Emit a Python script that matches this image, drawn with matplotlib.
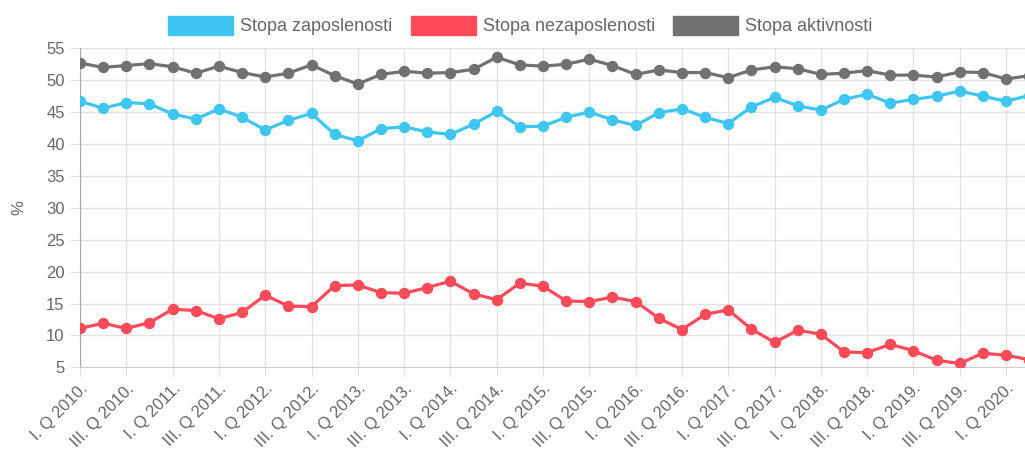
import numpy as np
import matplotlib
matplotlib.use("Agg")
import matplotlib.pyplot as plt
from matplotlib.patches import Patch

plt.rcParams['font.family'] = ['Liberation Sans', 'DejaVu Sans']

# quarters I.Q 2010 .. II.Q 2020
roman = ["I", "II", "III", "IV"]
quarters = [f"{roman[q]}. Q {y}." for y in range(2010, 2021) for q in range(4)][:42]

zaposlenost = [46.7, 45.6, 46.5, 46.3, 44.7, 43.9, 45.5, 44.2, 42.2, 43.7,
               44.8, 41.5, 40.5, 42.4, 42.7, 41.9, 41.5, 43.1, 45.1, 42.7,
               42.8, 44.2, 45.0, 43.8, 42.9, 44.9, 45.5, 44.2, 43.2, 45.8,
               47.3, 46.0, 45.3, 47.0, 47.8, 46.4, 47.0, 47.5, 48.3, 47.5,
               46.7, 47.6]
nezaposlenost = [11.1, 11.9, 11.1, 12.0, 14.1, 13.9, 12.6, 13.6, 16.3, 14.6,
                 14.5, 17.8, 17.9, 16.7, 16.6, 17.5, 18.5, 16.5, 15.6, 18.2,
                 17.7, 15.4, 15.3, 16.0, 15.3, 12.7, 10.9, 13.3, 14.0, 11.0,
                 8.9, 10.8, 10.2, 7.4, 7.3, 8.6, 7.6, 6.1, 5.6, 7.2,
                 6.9, 6.2]
aktivnost = [52.7, 52.0, 52.3, 52.6, 52.1, 51.1, 52.2, 51.2, 50.5, 51.1,
             52.4, 50.7, 49.4, 50.9, 51.4, 51.1, 51.2, 51.7, 53.6, 52.4,
             52.2, 52.5, 53.3, 52.3, 50.9, 51.6, 51.2, 51.2, 50.4, 51.6,
             52.1, 51.8, 50.9, 51.1, 51.5, 50.8, 50.8, 50.5, 51.3, 51.2,
             50.2, 50.7]

series = [("Stopa zaposlenosti", zaposlenost, "#3ec6f0"),
          ("Stopa nezaposlenosti", nezaposlenost, "#ff4a5a"),
          ("Stopa aktivnosti", aktivnost, "#717171")]

fig = plt.figure(figsize=(10.25, 4.53), dpi=100)
ax = fig.add_axes([80 / 1025, 1 - 367.3 / 453, 1 - 80 / 1025, (367.3 - 48.3) / 453])

x = np.arange(len(quarters))
for name, vals, col in series:
    ax.plot(x, vals, color=col, lw=2.3, marker="o", ms=7.2, zorder=3, clip_on=True)

ax.set_xlim(0, 40.82)
ax.set_ylim(5, 55)
ax.set_yticks(np.arange(5, 56, 5))
ax.set_xticks(x[::2])
ax.set_xticklabels(quarters[::2], rotation=45, ha="right", rotation_mode="anchor")

ax.grid(True, color="#e3e3e3", lw=1)
ax.set_axisbelow(True)
for s in ["top", "right"]:
    ax.spines[s].set_visible(False)
ax.spines["left"].set_color("#a8a8a8")
ax.spines["bottom"].set_color("#d0d0d0")
ax.tick_params(axis="both", length=7, color="#e3e3e3", labelcolor="#666666",
               labelsize=12, pad=4)
ax.tick_params(axis="x", pad=3)

ax.set_ylabel("%", color="#666666", fontsize=12, labelpad=14)

# legend: boxes ~65x23 px, centred above the plot
handles = [Patch(facecolor=c, edgecolor=c, label=n) for n, _, c in series]
leg = fig.legend(handles=handles, loc="center",
                 bbox_to_anchor=(520.5 / 1025, 1 - 25.5 / 453),
                 ncol=3, frameon=False, fontsize=13, handlelength=3.6,
                 handleheight=1.25, handletextpad=0.4, columnspacing=1.0,
                 borderpad=0.0)
for t in leg.get_texts():
    t.set_color("#666666")

fig.savefig("out.png", dpi=100)
